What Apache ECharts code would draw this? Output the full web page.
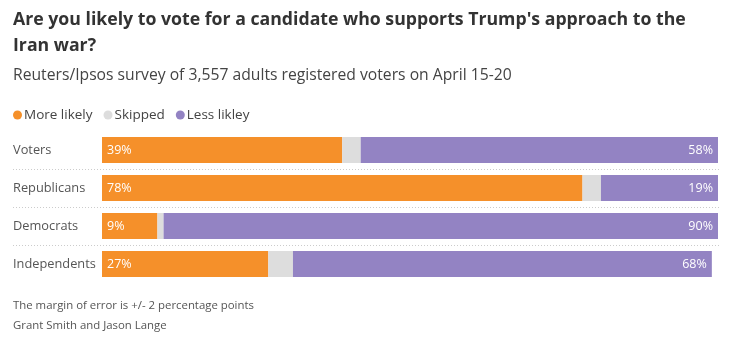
<!DOCTYPE html>
<html><head><meta charset="utf-8">
<script src="https://cdn.jsdelivr.net/npm/echarts@6/dist/echarts.min.js"></script>
<style>html,body{margin:0;padding:0;background:#fff}#c{width:737px;height:345px}</style>
</head><body><div id="c"></div>
<script>
const categories = ["Voters", "Republicans", "Democrats", "Independents"];
const moreLikely = [39, 78, 9, 27];
const skipped = [3, 3, 1, 4];
const lessLikely = [58, 19, 90, 68];
const seriesNames = ["More likely", "Skipped", "Less likley"];
const colors = ["#f5902a", "#dddddd", "#9383c3"];
const FONT = "'Open Sans', sans-serif";

const chart = echarts.init(document.getElementById('c'), null, {renderer: 'canvas'});
chart.setOption({
  animation: false,
  textStyle: {fontFamily: FONT},
  title: [
    {text: "Are you likely to vote for a candidate who supports Trump's approach to the\nIran war?",
     left: 13, top: 7, padding: 0,
     textStyle: {fontFamily: FONT, fontWeight: 'bold', fontSize: 17.7, color: '#333', lineHeight: 26}},
    {text: "Reuters/Ipsos survey of 3,557 adults registered voters on April 15-20",
     left: 13, top: 67, padding: 0,
     textStyle: {fontFamily: FONT, fontWeight: 'normal', fontSize: 15.7, color: '#444', lineHeight: 18}},
    {text: "The margin of error is +/- 2 percentage points\nGrant Smith and Jason Lange",
     left: 13, top: 296, padding: 0,
     textStyle: {fontFamily: FONT, fontWeight: 'normal', fontSize: 11.4, color: '#555', lineHeight: 20}}
  ],
  legend: {
    left: 8, top: 103, icon: 'circle', itemWidth: 9, itemHeight: 9, itemGap: 11,
    textStyle: {fontFamily: FONT, fontSize: 13.5, color: '#444', padding: [0, 0, 0, -3]},
    data: seriesNames
  },
  grid: [
    {left: 102, right: 19, top: 131, height: 152},
    {left: 13, right: 17, top: 131, height: 152}
  ],
  xAxis: [
    {gridIndex: 0, type: 'value', min: 0, max: 100, show: false},
    {gridIndex: 1, type: 'value', min: 0, max: 100, show: false}
  ],
  yAxis: [
    {gridIndex: 0, type: 'category', data: categories, inverse: true,
     axisLine: {show: false}, axisTick: {show: false}, splitLine: {show: false},
     axisLabel: {align: 'left', margin: 89, fontSize: 12.8, color: '#555', fontFamily: FONT}},
    {gridIndex: 1, type: 'category', data: categories, inverse: true,
     axisLine: {show: false}, axisTick: {show: false}, axisLabel: {show: false},
     splitLine: {show: true, showMinLine: false, showMaxLine: false,
       lineStyle: {color: '#cccccc', type: [1, 2], width: 1}}}
  ],
  series: [
    {name: seriesNames[0], type: 'bar', stack: 's', data: moreLikely, barWidth: 26,
     itemStyle: {color: colors[0]},
     label: {show: true, position: 'insideLeft', formatter: '{c}%', color: '#fff', fontSize: 12.5, fontFamily: FONT}},
    {name: seriesNames[1], type: 'bar', stack: 's', data: skipped, barWidth: 26,
     itemStyle: {color: colors[1]}},
    {name: seriesNames[2], type: 'bar', stack: 's', data: lessLikely, barWidth: 26,
     itemStyle: {color: colors[2]},
     label: {show: true, position: 'insideRight', formatter: '{c}%', color: '#fff', fontSize: 12.5, fontFamily: FONT}}
  ]
});
</script></body></html>
